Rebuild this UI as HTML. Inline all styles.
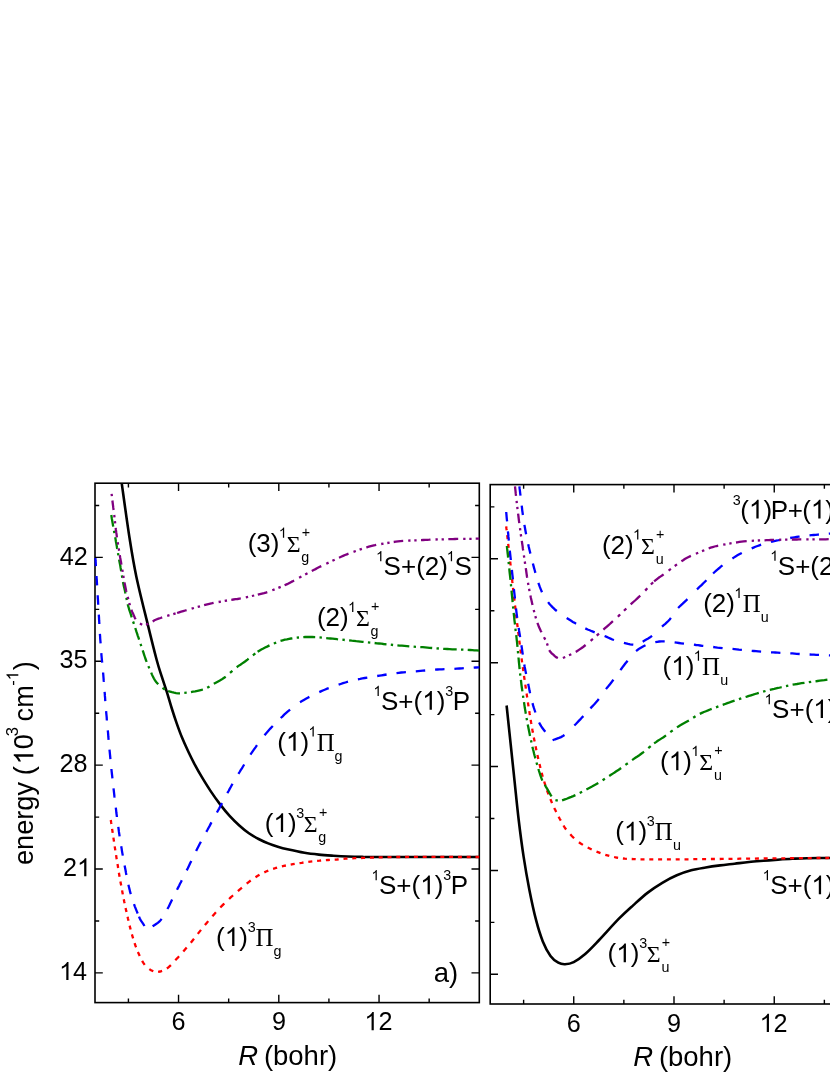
<!DOCTYPE html>
<html><head><meta charset="utf-8"><title>Potential energy curves</title>
<style>html,body{margin:0;padding:0;background:#fff}svg{display:block;will-change:transform}text{font-kerning:none}</style></head>
<body>
<svg width="830" height="1075" viewBox="0 0 830 1075">
<rect width="830" height="1075" fill="#fff"/>
<defs><path id="one" d="M763 0H583V1147Q518 1085 412.5 1023T223 930V1104Q374 1175 487 1276T647 1472H763Z"/><clipPath id="cl"><rect x="94.20" y="483.90" width="385.10" height="518.70"/></clipPath>
<clipPath id="cr"><rect x="489.40" y="485.30" width="390.60" height="518.70"/></clipPath></defs>
<rect x="95.00" y="483.20" width="384.30" height="519.40" fill="none" stroke="#000" stroke-width="1.6"/>
<path d="M128.42 1002.60 v-4.20 M128.42 483.20 v4.20 M178.54 1002.60 v-7.80 M178.54 483.20 v7.80 M228.67 1002.60 v-4.20 M228.67 483.20 v4.20 M278.80 1002.60 v-7.80 M278.80 483.20 v7.80 M328.92 1002.60 v-4.20 M328.92 483.20 v4.20 M379.05 1002.60 v-7.80 M379.05 483.20 v7.80 M429.17 1002.60 v-4.20 M429.17 483.20 v4.20 M95.00 972.92 h7.80 M479.30 972.92 h-7.80 M95.00 920.98 h4.20 M479.30 920.98 h-4.20 M95.00 869.04 h7.80 M479.30 869.04 h-7.80 M95.00 817.10 h4.20 M479.30 817.10 h-4.20 M95.00 765.16 h7.80 M479.30 765.16 h-7.80 M95.00 713.22 h4.20 M479.30 713.22 h-4.20 M95.00 661.28 h7.80 M479.30 661.28 h-7.80 M95.00 609.34 h4.20 M479.30 609.34 h-4.20 M95.00 557.40 h7.80 M479.30 557.40 h-7.80 M95.00 505.46 h4.20 M479.30 505.46 h-4.20" stroke="#000" stroke-width="1.4" fill="none"/>
<rect x="490.20" y="484.60" width="389.80" height="519.40" fill="none" stroke="#000" stroke-width="1.6"/>
<path d="M523.62 1004.00 v-4.20 M523.62 484.60 v4.20 M573.74 1004.00 v-7.80 M573.74 484.60 v7.80 M623.87 1004.00 v-4.20 M623.87 484.60 v4.20 M674.00 1004.00 v-7.80 M674.00 484.60 v7.80 M724.12 1004.00 v-4.20 M724.12 484.60 v4.20 M774.25 1004.00 v-7.80 M774.25 484.60 v7.80 M824.37 1004.00 v-4.20 M824.37 484.60 v4.20 M490.20 974.32 h7.80 M880.00 974.32 h-7.80 M490.20 922.38 h4.20 M880.00 922.38 h-4.20 M490.20 870.44 h7.80 M880.00 870.44 h-7.80 M490.20 818.50 h4.20 M880.00 818.50 h-4.20 M490.20 766.56 h7.80 M880.00 766.56 h-7.80 M490.20 714.62 h4.20 M880.00 714.62 h-4.20 M490.20 662.68 h7.80 M880.00 662.68 h-7.80 M490.20 610.74 h4.20 M880.00 610.74 h-4.20 M490.20 558.80 h7.80 M880.00 558.80 h-7.80 M490.20 506.86 h4.20 M880.00 506.86 h-4.20" stroke="#000" stroke-width="1.4" fill="none"/>
<path d="M121.80 483.90 C123.08 492.88 127.08 522.38 129.50 537.80 C131.92 553.22 133.25 561.93 136.30 576.40 C139.35 590.87 144.40 610.67 147.80 624.60 C151.20 638.53 154.37 651.32 156.70 660.00 C159.03 668.68 160.12 671.40 161.80 676.70 C163.48 682.00 165.13 686.50 166.80 691.80 C168.47 697.10 170.13 703.20 171.80 708.50 C173.47 713.80 175.13 718.85 176.80 723.60 C178.47 728.35 179.85 732.27 181.80 737.00 C183.75 741.73 186.27 747.27 188.50 752.00 C190.73 756.73 192.97 761.20 195.20 765.40 C197.43 769.60 199.38 773.00 201.90 777.20 C204.42 781.40 207.20 785.98 210.30 790.60 C213.40 795.22 217.28 800.68 220.50 804.90 C223.72 809.12 226.47 812.47 229.60 815.90 C232.73 819.33 236.08 822.60 239.30 825.50 C242.52 828.40 245.68 831.05 248.90 833.30 C252.12 835.55 255.38 837.32 258.60 839.00 C261.82 840.68 265.00 842.12 268.20 843.40 C271.40 844.68 274.58 845.72 277.80 846.70 C281.02 847.68 283.05 848.28 287.50 849.30 C291.95 850.32 299.27 851.92 304.50 852.80 C309.73 853.68 314.08 854.12 318.90 854.60 C323.72 855.08 328.58 855.38 333.40 855.70 C338.22 856.02 342.98 856.30 347.80 856.50 C352.62 856.70 357.48 856.82 362.30 856.90 C367.12 856.98 357.12 856.98 376.70 857.00 C396.28 857.02 462.62 857.00 479.80 857.00" fill="none" stroke="#000" stroke-width="2.6" clip-path="url(#cl)"/>
<path d="M110.8 820.0L111.1 822.2L111.4 824.0M112.1 828.8L112.5 831.5L112.7 832.8M113.4 837.6L113.7 839.7L114.0 841.6M114.7 846.4L115.1 848.9L115.3 850.4M116.1 855.2L116.4 857.3L116.7 859.2M117.5 864.0L117.9 866.2L118.1 868.0M118.9 872.8L119.3 875.2L119.6 876.8M120.4 881.6L120.8 883.6L121.2 885.6M122.1 890.4L122.5 892.8L122.8 894.4M123.8 899.2L124.2 901.4L124.6 903.2M125.6 908.0L126.1 910.4L126.5 912.0M127.6 916.8L128.0 918.8L128.5 920.8M129.6 925.6L130.2 927.9L130.6 929.6M131.9 934.4L132.5 936.4L133.1 938.4M134.6 943.2L135.4 945.5L136.1 947.2M137.9 952.0L138.8 953.9L139.7 956.0M142.1 960.8L143.2 962.7L144.7 964.8M149.3 969.1L151.1 970.3L153.3 971.3M158.1 971.8L160.2 971.5L162.1 970.9M166.9 968.5L168.7 967.2L170.9 965.1M175.3 960.3L176.7 958.8L178.2 957.2L179.0 956.3M183.3 951.5L184.8 949.7L186.7 947.5M190.8 942.7L192.4 940.7L194.0 938.7M197.8 933.9L199.4 931.9L201.0 929.9M204.9 925.1L206.5 923.2L208.2 921.1M212.4 916.3L213.8 914.7L215.9 912.3M220.3 907.5L221.9 905.9L223.4 904.4L224.3 903.5M229.1 899.0L230.7 897.4L232.3 896.0L233.1 895.3M237.9 891.1L239.6 889.6L241.1 888.3L241.9 887.6M246.7 883.6L248.3 882.3L250.7 880.5M255.5 877.2L257.4 876.0L259.5 874.8M264.3 872.4L266.1 871.5L268.3 870.6M273.1 868.8L275.2 868.2L277.1 867.6M281.9 866.4L283.9 865.9L285.9 865.5M290.7 864.6L292.9 864.2L294.7 863.9M299.5 863.1L301.7 862.8L303.5 862.5M308.3 861.9L310.3 861.6L312.3 861.4M317.1 860.9L319.5 860.7L321.1 860.5M325.9 860.2L328.2 860.0L329.9 859.9M334.7 859.6L336.9 859.5L338.7 859.3M343.5 858.9L345.7 858.7L347.5 858.6M352.3 858.3L354.9 858.2L356.3 858.2M361.1 858.0L363.3 857.9L365.1 857.8M369.9 857.7L372.0 857.6L373.9 857.5M378.7 857.4L380.9 857.3L382.7 857.3M387.5 857.2L389.8 857.1L391.5 857.1M396.3 857.0L398.5 857.0L400.3 857.0M405.1 857.0L409.1 856.9M413.9 856.9L417.9 856.9M422.7 856.9L426.7 856.9M431.5 856.9L435.5 856.9M440.3 856.9L442.7 856.9L444.3 856.9M449.1 856.9L451.9 856.9L453.1 856.9M457.9 857.0L460.6 857.0L461.9 857.0M466.7 857.0L470.7 857.0M475.5 857.0L477.6 857.0L479.5 857.0" fill="none" stroke="#ff0000" stroke-width="2.3" clip-path="url(#cl)"/>
<path d="M95.4 558.0L95.5 560.2L95.7 562.2L95.8 564.5L95.9 566.1M96.5 576.0L96.6 578.1L96.8 580.2L96.9 582.4L97.1 585.4M97.7 595.3L97.8 597.9L98.0 600.2L98.1 602.5L98.2 604.7M98.8 614.6L99.0 617.6L99.1 620.2L99.3 622.8L99.3 624.0M99.9 633.9L100.1 636.4L100.2 638.6L100.4 640.8L100.6 643.3M101.3 653.2L101.5 655.7L101.7 657.9L101.9 660.0L102.2 662.6M103.1 672.5L103.3 675.0L103.5 677.7L103.7 680.4L103.9 681.9M104.6 691.8L104.8 693.9L104.9 695.9L105.1 698.0L105.2 700.0L105.3 701.2M106.1 711.1L106.3 713.3L106.5 715.3L106.7 717.4L106.8 719.5L106.9 720.5M107.8 730.4L108.0 732.4L108.2 734.6L108.3 736.7L108.6 739.8M109.5 749.7L109.8 752.7L110.0 754.7L110.2 756.7L110.4 759.1M111.4 769.0L111.7 771.8L112.0 774.5L112.3 777.2L112.4 778.4M113.5 788.3L113.8 790.7L114.1 793.4L114.4 796.2L114.6 797.7M115.8 807.6L116.1 810.2L116.4 813.0L116.8 815.8L116.9 817.0M118.3 826.9L118.6 829.2L118.9 831.7L119.3 834.1L119.6 836.3M121.2 846.2L121.6 848.4L121.9 850.6L122.3 852.9L122.8 855.6M124.6 865.5L125.1 867.9L125.6 870.5L126.0 873.0L126.4 874.9M128.4 884.8L129.0 887.3L129.6 889.6L130.1 891.9L130.8 894.2M134.0 904.1L134.9 906.6L135.8 908.9L136.7 911.1L137.7 913.5M139.0 916.6L139.8 918.5L140.8 920.4L142.0 922.1L143.2 923.8L144.5 926.0M152.6 926.3L154.3 925.2L156.1 924.0L157.8 922.9L159.5 921.5L160.9 919.9L161.6 918.9M167.4 909.0L168.4 907.2L169.3 905.4L170.2 903.5L171.2 901.5L172.1 899.6M177.0 889.7L178.1 887.6L179.1 885.7L180.0 883.8L181.0 882.0L181.8 880.3M186.7 870.4L187.8 868.3L188.9 866.0L190.0 863.6L191.3 861.0M196.1 851.1L197.1 849.0L198.3 846.7L199.4 844.5L200.9 841.7M206.3 831.8L207.5 829.8L208.6 827.7L209.8 825.6L210.9 823.4L211.5 822.4M216.9 812.5L217.9 810.7L219.1 808.6L220.2 806.5L221.4 804.4L222.1 803.1M227.3 793.2L228.6 791.0L229.7 788.9L230.9 786.8L232.5 783.8M238.4 773.9L239.6 772.0L240.7 770.1L241.9 768.3L243.0 766.5L244.2 764.5M250.4 754.6L251.6 752.9L253.0 750.9L254.2 749.2L255.5 747.4L257.0 745.2M264.5 735.3L265.8 733.7L267.3 732.0L268.8 730.3L270.3 728.6L271.8 727.0L272.8 725.9M280.7 718.0L282.6 716.3L284.2 714.7L285.9 713.2L287.6 711.7L290.1 709.6M300.0 702.2L302.0 701.0L303.9 699.9L305.9 698.8L307.8 697.7L309.4 696.9M319.3 692.1L321.4 691.1L323.4 690.3L325.3 689.5L327.2 688.7L328.7 688.2M338.6 684.7L340.7 684.0L343.0 683.2L345.4 682.5L348.0 681.7M357.9 679.3L360.1 678.9L362.4 678.4L364.8 678.0L367.3 677.6M377.2 676.0L379.6 675.6L381.7 675.3L383.7 675.0L386.6 674.5M396.5 673.1L398.8 672.8L401.2 672.5L403.6 672.3L405.9 672.1M415.8 671.3L418.1 671.1L420.5 670.9L422.9 670.7L425.2 670.5M435.1 669.7L437.4 669.5L439.7 669.4L442.0 669.3L444.5 669.2M454.4 668.8L456.8 668.6L459.3 668.5L462.0 668.4L463.8 668.2M473.7 667.7L475.9 667.5L478.3 667.4L479.8 667.3" fill="none" stroke="#0000ff" stroke-width="2.3" clip-path="url(#cl)"/>
<path d="M111.3 515.0L111.6 517.0L111.9 519.0L112.3 521.2L112.7 523.5L113.2 526.6M114.0 530.8L114.4 533.1M115.2 537.3L115.6 539.4L115.9 541.5L116.3 543.6L116.7 545.7L117.0 547.7L117.3 548.9M118.0 553.1L118.4 555.4M119.1 559.6L119.5 561.7L119.9 563.8L120.3 565.8L120.6 567.9L121.0 570.0L121.2 571.2M121.9 575.4L122.3 577.7M123.0 581.9L123.4 583.9L123.8 586.0L124.3 588.1L124.8 590.1L125.2 592.2L125.5 593.5M126.4 597.7L126.8 600.0M127.7 604.2L128.1 605.7M128.1 605.7L128.7 607.8L129.3 609.8L129.9 611.7L130.6 613.7L131.2 615.7L131.7 617.3M133.1 621.5L133.9 623.8M135.3 628.0L135.9 630.0L136.5 631.9L137.2 633.8L137.8 635.8L138.5 637.7L139.1 639.6M140.5 643.8L141.3 646.1M142.7 650.3L143.3 652.2L144.0 654.4L144.7 656.5L145.4 658.5L146.1 660.5L146.7 661.9M148.4 666.1L149.3 668.4M151.2 672.6L152.0 674.6L152.9 676.6L153.9 678.5L155.0 680.4L156.2 682.0L158.2 684.2M162.5 687.9L164.9 689.6M168.1 691.0L170.0 691.6L172.0 692.2L174.1 692.7L176.1 693.1L178.2 693.4L180.0 693.4M184.3 692.9L186.7 692.7M191.0 692.1L193.0 691.7L195.2 691.3L197.5 690.8L199.7 690.3L201.7 689.8L202.9 689.5M207.2 687.7L209.5 686.4M213.8 683.8L215.8 682.7L217.6 681.7L219.5 680.7L221.5 679.6L223.4 678.3L225.7 676.7M230.0 672.9L232.4 670.8M236.7 667.2L238.5 665.9L240.4 664.7L242.3 663.4L244.0 662.2L245.7 661.0L247.5 659.6L248.6 658.7M252.9 655.3L255.3 653.4M257.6 651.8L259.3 650.7L261.3 649.5L263.3 648.5L265.1 647.5L267.1 646.6L269.5 645.4M273.8 643.5L276.2 642.6M280.5 640.9L282.6 640.3L284.8 639.7L286.9 639.3L289.1 638.8L291.1 638.5L292.4 638.3M296.7 637.7L299.0 637.5M303.3 637.1L305.4 637.0L307.7 636.9L309.9 637.0L312.2 637.0L315.2 637.1M319.5 637.4L321.9 637.6M326.2 638.1L328.3 638.3L330.4 638.5L332.6 638.7L334.8 638.9L337.1 639.2L338.1 639.3M342.4 639.7L344.8 640.0M349.1 640.4L351.7 640.7M351.7 640.7L353.9 640.9L356.2 641.2L358.2 641.4L360.3 641.6L362.5 641.8L363.6 641.9M367.9 642.4L370.3 642.6M374.6 643.0L376.9 643.3L379.1 643.5L381.3 643.7L383.5 644.0L386.5 644.3M390.8 644.7L393.1 645.0M397.4 645.4L399.6 645.6L402.0 645.7L404.4 645.9L406.9 646.1L409.3 646.3M413.6 646.6L416.0 646.8M420.3 647.1L422.8 647.2L425.1 647.4L427.4 647.6L429.6 647.8L432.2 648.0M436.5 648.3L438.9 648.5M443.2 648.8L444.8 648.9M444.8 648.9L447.2 649.0L449.6 649.1L452.2 649.3L454.7 649.4L456.7 649.4M461.0 649.6L463.4 649.7M467.7 649.9L470.0 650.0L472.3 650.1L474.4 650.3L476.5 650.4L479.6 650.7" fill="none" stroke="#008000" stroke-width="2.3" clip-path="url(#cl)"/>
<path d="M111.6 493.9L111.9 496.1M112.4 500.5L112.7 503.0L113.0 505.4L113.3 507.9L113.6 510.0M114.2 515.0L114.5 517.3M114.9 521.1L115.2 523.4M115.7 527.8L115.9 529.9L116.2 532.2L116.6 534.6L116.9 537.3M117.7 542.3L118.1 544.6M118.7 548.4L119.1 550.7M119.8 555.1L120.2 557.7L120.6 559.9L121.0 562.0L121.4 564.6M122.3 569.6L122.7 571.9M123.3 575.7L123.7 578.0M124.5 582.4L124.9 584.6L125.3 586.5L125.7 588.5L126.1 590.5L126.5 591.9M127.7 596.9L128.3 599.2M129.3 603.0L129.9 605.3M131.3 609.7L132.1 611.7L133.0 613.6L133.9 615.6L134.7 617.5L135.6 619.2M139.9 623.5L142.2 624.7M146.0 624.7L148.3 623.7M152.7 621.4L154.5 620.3L156.3 619.5L158.5 618.6L160.6 618.0L162.2 617.4M167.2 615.9L169.5 615.2M173.3 614.1L175.6 613.4M177.1 613.0L179.1 612.3L181.2 611.7L183.2 611.1L185.3 610.5L186.6 610.1M191.6 608.7L193.9 608.0M197.7 606.9L200.0 606.3M204.1 605.2L206.2 604.6L208.3 604.1L210.3 603.6L212.3 603.2L213.6 602.9M218.6 602.0L220.9 601.6M224.7 600.9L227.0 600.5M231.3 599.8L233.4 599.5L235.5 599.2L237.5 599.0L239.6 598.6L240.8 598.4M245.8 597.3L248.1 596.8M251.9 596.0L254.2 595.5M257.8 594.7L259.9 594.2L262.0 593.7L264.0 593.2L266.0 592.6L267.3 592.2M272.3 590.3L274.6 589.4M278.4 587.9L280.7 586.9M284.6 585.3L286.6 584.4L288.5 583.5L290.4 582.4L292.4 581.4L294.1 580.5M299.1 577.8L301.4 576.6M305.2 574.5L307.5 573.3M311.8 571.0L313.6 570.0L315.5 569.1L317.4 568.1L319.3 567.1L321.3 566.1M326.3 563.7L328.6 562.6M332.4 560.8L334.7 559.7M339.0 557.7L341.1 556.8L343.1 555.9L345.0 555.0L346.9 554.3L348.5 553.7M353.5 551.8L355.8 551.0M359.6 549.7L361.9 548.9M366.3 547.4L366.7 547.3M366.7 547.3L368.8 546.7L370.8 546.1L372.8 545.6L374.9 545.2L376.2 544.9M381.2 544.0L383.5 543.6M387.3 543.0L389.6 542.6M393.7 542.0L395.8 541.7L398.0 541.4L400.3 541.1L403.2 540.9M408.2 540.6L410.5 540.5M414.3 540.3L416.6 540.3M421.0 540.1L423.1 540.0L425.3 539.9L427.4 539.8L429.4 539.7L430.5 539.6M435.5 539.5L437.8 539.4M441.6 539.4L443.9 539.3M448.3 539.2L448.7 539.2M448.7 539.2L450.8 539.1L452.9 539.1L455.0 539.0L457.1 538.9L458.2 538.9M463.2 538.8L465.5 538.8M469.3 538.8L471.6 538.8M475.7 538.7L478.1 538.7L479.8 538.7" fill="none" stroke="#800080" stroke-width="2.3" clip-path="url(#cl)"/>
<path d="M506.60 705.50 C507.82 717.07 511.88 755.82 513.90 774.90 C515.92 793.98 517.08 806.38 518.70 820.00 C520.32 833.62 521.83 845.03 523.60 856.60 C525.37 868.17 527.22 878.80 529.30 889.40 C531.38 900.00 533.85 911.53 536.10 920.20 C538.35 928.87 540.40 935.45 542.80 941.40 C545.20 947.35 547.92 952.35 550.50 955.90 C553.08 959.45 555.88 961.32 558.30 962.70 C560.72 964.08 562.43 964.30 565.00 964.20 C567.57 964.10 570.33 963.80 573.70 962.10 C577.07 960.40 581.03 957.60 585.20 954.00 C589.37 950.40 593.08 946.38 598.70 940.50 C604.32 934.62 613.12 924.60 618.90 918.70 C624.68 912.80 628.58 909.45 633.40 905.10 C638.22 900.75 642.98 896.32 647.80 892.60 C652.62 888.88 657.47 885.68 662.30 882.80 C667.13 879.92 671.98 877.38 676.80 875.30 C681.62 873.22 686.38 871.60 691.20 870.30 C696.02 869.00 700.88 868.32 705.70 867.50 C710.52 866.68 715.28 866.03 720.10 865.40 C724.92 864.77 729.78 864.27 734.60 863.70 C739.42 863.13 744.18 862.48 749.00 862.00 C753.82 861.52 758.67 861.18 763.50 860.80 C768.33 860.42 773.18 860.03 778.00 859.70 C782.82 859.37 787.58 859.05 792.40 858.80 C797.22 858.55 799.80 858.35 806.90 858.20 C814.00 858.05 830.32 857.95 835.00 857.90" fill="none" stroke="#000" stroke-width="2.6" clip-path="url(#cr)"/>
<path d="M506.2 526.3L506.4 528.4L506.7 530.3M507.2 535.1L507.5 537.7L507.6 539.1M508.2 543.9L508.5 546.5L508.6 547.9M509.2 552.7L509.5 555.5L509.6 556.7M510.2 561.5L510.4 563.6L510.6 565.5M511.1 570.3L511.4 572.9L511.5 574.3M512.1 579.1L512.3 581.4L512.5 583.1M513.0 587.9L513.3 590.2L513.5 591.9M514.0 596.7L514.3 599.5L514.5 600.7M515.0 605.5L515.3 607.5L515.5 609.5M516.1 614.3L516.4 616.8L516.5 618.3M517.1 623.1L517.5 626.0L517.6 627.1M518.2 631.9L518.5 634.1L518.7 635.9M519.3 640.7L519.7 643.6L519.8 644.7M520.4 649.5L520.7 651.8L521.0 653.5M521.6 658.3L521.9 660.8L522.1 662.3M522.8 667.1L523.2 670.0L523.4 671.1M524.0 675.9L524.4 678.5L524.6 679.9M525.3 684.7L525.7 687.4L525.9 688.7M526.6 693.5L527.0 696.2L527.2 697.5M527.9 702.3L528.3 704.9L528.5 706.3M529.3 711.1L529.7 713.9L529.9 715.1M530.7 719.9L531.1 722.4L531.4 723.9M532.2 728.7L532.6 731.3L532.9 732.7M533.8 737.5L534.3 740.0L534.6 741.5M535.6 746.3L536.1 749.1L536.4 750.3M537.4 755.1L538.0 757.6L538.3 759.1M539.5 763.9L540.0 766.0L540.4 767.9M541.7 772.7L542.2 774.7L542.7 776.7M544.2 781.5L544.9 783.8L545.4 785.5M547.0 790.3L547.8 792.5L548.5 794.3M550.4 799.1L551.3 801.3L552.0 803.1M554.2 807.9L555.3 810.1L556.2 811.9M558.6 816.7L559.7 818.8L560.8 820.7M563.5 825.5L564.6 827.4L566.1 829.5M570.3 834.3L571.8 836.0L573.3 837.5L574.1 838.3M578.9 842.2L580.7 843.5L582.9 844.9M587.7 847.5L589.7 848.5L591.7 849.5M596.5 851.6L598.6 852.4L600.5 853.1M605.3 854.8L607.4 855.4L609.3 855.9M614.1 857.0L616.4 857.5L618.1 857.8M622.9 858.5L624.9 858.7L626.9 858.8M631.7 859.0L633.9 859.1L635.7 859.2M640.5 859.3L642.5 859.3L644.5 859.3M649.3 859.4L651.3 859.4L653.3 859.4M658.1 859.4L660.5 859.4L662.1 859.4M666.9 859.4L669.7 859.4L670.9 859.4M675.7 859.4L678.6 859.3L679.7 859.3M684.5 859.3L687.3 859.3L688.5 859.3M693.3 859.2L695.5 859.2L697.3 859.2M702.1 859.1L704.4 859.1L706.1 859.1M710.9 859.0L714.9 859.0M719.7 859.0L721.9 858.9L723.7 858.9M728.5 858.9L732.5 858.8M737.3 858.8L739.9 858.7L741.3 858.7M746.1 858.7L748.3 858.6L750.1 858.6M754.9 858.6L758.9 858.5M763.7 858.5L767.7 858.4M772.5 858.4L775.0 858.4L776.5 858.3M781.3 858.3L784.0 858.3L785.3 858.3M790.1 858.2L794.1 858.2M798.9 858.2L801.0 858.1L802.9 858.1M807.7 858.1L810.1 858.1L811.7 858.1M816.5 858.0L818.7 858.0L820.5 858.0M825.3 858.0L827.5 858.0L829.3 857.9M834.1 857.9L835.0 857.9" fill="none" stroke="#ff0000" stroke-width="2.3" clip-path="url(#cr)"/>
<path d="M506.2 512.0L506.4 514.2L506.6 516.7L506.8 518.9L507.1 521.4M507.9 531.3L508.2 533.6L508.4 536.4L508.7 539.2L508.8 540.7M509.8 550.6L510.1 553.4L510.4 556.1L510.7 558.9L510.8 560.0M511.9 569.9L512.1 572.0L512.4 574.8L512.7 577.5L512.9 579.3M513.9 589.2L514.2 591.8L514.5 594.4L514.8 597.1L514.9 598.6M516.0 608.5L516.3 610.8L516.6 613.3L516.9 615.7L517.2 617.9M518.7 627.8L519.0 630.2L519.4 632.6L519.8 634.8L520.1 637.2M521.4 645.2L521.8 647.6L522.1 649.8L522.4 651.8L522.8 654.6M524.3 664.5L524.6 666.5L525.1 669.0L525.6 671.4L526.1 673.9M528.2 683.8L528.6 685.9L529.1 688.3L529.5 690.6L530.1 693.2M532.5 703.1L533.1 705.4L533.7 707.4L534.4 709.5L535.4 712.5M539.1 722.4L540.1 724.4L541.3 726.4L542.4 728.1L543.7 729.7L545.3 731.8M552.6 740.3L555.1 739.3M555.1 739.3L557.0 738.6L559.0 737.9L561.0 737.1L562.9 736.0L564.5 735.0M574.3 725.5L575.9 724.0L577.3 722.5L578.8 720.9L580.3 719.4L581.7 717.8L583.4 716.1M590.4 708.4L591.8 706.9L593.4 705.2L594.8 703.7L596.3 702.0L597.6 700.5L598.8 699.0M606.0 689.1L607.3 687.4L608.7 685.8L610.0 684.2L611.3 682.6L612.6 680.8L613.5 679.7M620.4 670.1L621.6 668.5L622.9 666.7L624.2 665.0L625.5 663.3L626.8 661.7L627.6 660.7M636.1 651.1L637.8 649.7L639.6 648.4L641.3 647.4L643.0 646.4L645.5 645.2M655.3 642.2L657.3 641.8L659.3 641.5L661.5 641.3L663.7 641.3L664.7 641.3M674.6 642.4L676.7 642.7L678.9 643.0L681.1 643.3L684.0 643.7M693.9 644.7L696.1 645.0L698.1 645.2L700.1 645.5L702.3 645.8L703.3 645.9M713.2 647.0L715.4 647.3L717.5 647.6L719.7 647.8L722.6 648.2M732.5 648.9L734.6 649.1L736.7 649.3L738.9 649.6L741.9 649.9M751.7 650.8L753.9 651.0L756.0 651.2L758.2 651.4L761.1 651.6M771.0 652.3L773.2 652.4L775.3 652.5L777.5 652.6L780.4 652.8M790.3 653.3L792.4 653.4L794.6 653.6L796.8 653.8L799.7 654.0M809.6 654.5L811.8 654.6L814.0 654.7L816.1 654.8L819.0 654.9M828.9 655.4L831.2 655.5L833.4 655.6L835.0 655.7" fill="none" stroke="#0000ff" stroke-width="2.3" clip-path="url(#cr)"/>
<path d="M519.4 486.3L519.6 488.4L519.9 490.7L520.2 493.4L520.5 495.7M521.7 505.6L522.0 508.0L522.2 510.1L522.5 512.2L522.9 515.0M524.4 524.9L524.8 527.0L525.2 529.2L525.6 531.5L526.1 534.3M528.2 544.2L528.7 546.6L529.2 548.7L529.7 550.8L530.4 553.6M532.9 563.5L533.5 565.9L534.1 568.1L534.7 570.2L535.4 572.9M538.4 582.8L539.1 585.0L539.9 587.2L540.8 589.4L542.0 592.2M548.1 602.1L549.3 603.7L550.7 605.3L552.2 606.9L553.8 608.4L555.5 610.0L556.8 611.0M566.7 618.0L568.7 619.3L570.8 620.6L572.9 621.9L575.0 623.1L576.1 623.7M585.3 628.4L587.6 629.5L589.7 630.3L591.8 631.2L594.7 632.3M604.6 636.0L606.7 636.9L608.5 637.7L610.5 638.6L612.4 639.5L614.0 640.0M623.9 642.9L625.9 643.4L628.1 643.9L630.1 644.3L632.1 644.6L633.3 644.7M642.7 641.7L644.6 640.6L646.3 639.6L648.2 638.5L650.1 637.3L652.1 635.9M662.0 626.6L663.7 625.1L665.3 623.8L666.8 622.4L668.3 621.0L669.7 619.4L670.9 617.9M678.1 608.0L679.6 606.5L681.1 605.1L682.7 603.7L684.3 602.2L685.9 600.7L687.4 599.1M697.0 589.3L698.5 587.9L700.1 586.3L701.8 584.8L703.3 583.3L704.9 581.7L706.4 580.2M713.1 573.5L714.7 572.0L716.2 570.6L717.7 569.3L719.3 568.0L720.8 566.7L722.5 565.4M732.4 558.5L734.1 557.4L735.9 556.2L737.8 555.1L739.7 554.0L741.8 552.9M751.7 548.4L753.5 547.6L755.4 546.8L757.5 546.0L759.4 545.3L761.1 544.7M771.0 542.0L773.1 541.4L775.2 540.9L777.3 540.5L779.4 540.0L780.4 539.8M790.2 538.0L792.3 537.6L794.4 537.3L796.4 537.0L798.5 536.7L799.6 536.6M809.5 535.4L811.6 535.2L813.7 535.0L815.7 534.8L817.8 534.6L818.9 534.5M828.8 533.7L831.2 533.5L833.4 533.3L835.0 533.2" fill="none" stroke="#0000ff" stroke-width="2.3" clip-path="url(#cr)"/>
<path d="M506.9 546.0L507.1 548.4L507.4 550.9L507.6 553.0L507.9 555.3L508.1 557.6M508.6 561.8L508.8 564.1M509.3 568.3L509.5 571.1L509.8 573.8L510.1 576.4L510.5 579.9M510.9 584.1L511.1 586.4M511.5 590.6L511.7 592.7L511.9 594.7L512.1 596.7L512.3 598.7L512.5 600.7L512.6 602.2M513.0 606.4L513.3 608.7M513.7 612.9L513.9 614.9L514.2 617.4L514.4 619.8L514.7 622.2L515.0 624.5M515.4 628.7L515.7 631.0M516.2 635.2L516.5 637.4L516.7 639.6L517.0 641.9L517.2 644.2L517.5 646.8M517.9 651.0L518.1 653.3M518.5 657.5L518.7 659.6L518.9 662.1L519.2 664.6L519.4 667.2L519.6 669.1M520.1 673.3L520.3 675.6M520.9 679.8L521.2 682.3L521.5 685.1L521.9 688.0L522.4 691.4M523.0 695.6L523.3 697.9M524.0 702.1L524.4 704.8L524.8 707.8L525.3 710.6L525.8 713.7M526.5 717.9L527.0 720.2M527.7 724.4L528.2 726.7L528.7 729.2L529.2 731.7L529.7 734.2L530.0 736.0M531.0 740.2L531.5 742.5M532.4 746.7L533.0 749.2L533.6 751.4L534.1 753.7L534.7 756.0L535.4 758.3M536.5 762.5L537.2 764.8M538.4 769.0L539.0 771.0L539.8 773.4L540.4 775.5L541.2 777.7L542.3 780.6M544.8 784.8L545.8 786.6L546.9 788.4L547.9 790.1L548.9 791.9L549.9 793.7L550.9 795.4L551.6 796.4M555.4 800.1L557.8 800.7M562.1 800.4L563.5 799.9M563.5 799.9L565.5 799.2L567.3 798.5L569.4 797.6L571.3 796.9L573.2 796.1L575.4 795.1M579.7 793.0L582.1 791.8M586.4 789.5L588.3 788.5L590.2 787.5L592.0 786.6L593.8 785.6L595.6 784.6L598.3 783.0M602.6 780.3L604.9 778.8M609.2 776.0L611.0 774.8L612.8 773.6L614.6 772.5L616.3 771.3L618.0 770.2L619.8 769.0L621.1 768.0M625.4 764.9L627.8 763.2M632.1 760.1L633.8 758.9L635.4 757.8L637.4 756.5L639.3 755.2L640.9 754.0L642.6 752.8L644.0 751.7M648.3 748.1L650.7 746.1M654.1 743.4L656.0 742.1L657.8 740.8L659.7 739.6L661.6 738.4L663.5 737.2L666.0 735.4M670.3 732.2L672.7 730.4M677.0 727.4L678.8 726.2L680.7 725.1L682.5 724.0L684.3 723.0L686.1 722.0L688.9 720.4M693.2 717.7L695.5 716.2M699.8 713.9L701.9 712.9L703.9 712.0L706.0 711.2L708.0 710.4L710.1 709.5L711.7 708.9M716.0 707.3L718.4 706.4M722.7 704.8L724.6 704.2L726.7 703.4L728.8 702.7L730.9 701.9L733.0 701.2L734.6 700.7M738.9 699.2L741.3 698.4M745.6 697.0L746.9 696.6M746.9 696.6L749.0 695.9L751.0 695.3L753.1 694.7L755.1 694.0L757.2 693.4L758.8 692.9M763.1 691.7L765.5 691.0M769.8 689.9L771.9 689.4L774.2 688.9L776.1 688.4L778.1 688.0L780.3 687.5L781.7 687.2M786.0 686.2L788.3 685.7M792.6 684.7L794.8 684.3L797.0 684.0L799.2 683.6L801.5 683.2L804.5 682.8M808.8 682.2L811.2 681.8M815.5 681.3L817.6 681.0L819.8 680.7L822.1 680.4L824.4 680.1L827.4 679.6M831.7 679.1L834.1 678.7" fill="none" stroke="#008000" stroke-width="2.3" clip-path="url(#cr)"/>
<path d="M515.0 486.3L515.2 488.3L515.5 490.9L515.7 493.2L516.0 495.8M516.6 500.8L516.8 503.1M517.3 506.9L517.5 509.2M518.1 513.6L518.4 516.0L518.7 518.6L519.0 521.1L519.3 523.1M520.0 528.1L520.3 530.4M520.8 534.2L521.1 536.5M521.8 540.9L522.2 543.6L522.6 546.2L522.9 548.9L523.2 550.4M523.9 555.4L524.2 557.7M524.8 561.5L525.1 563.8M525.8 568.2L526.2 571.0L526.6 573.8L527.0 576.7L527.2 577.7M528.0 582.7L528.4 585.0M529.1 588.8L529.5 591.1M530.4 595.5L530.9 598.0L531.5 600.4L532.0 602.7L532.5 605.0M533.7 610.0L534.3 612.3M535.3 616.1L536.0 618.4M537.4 622.8L538.1 624.7L538.9 626.8L539.8 628.7L540.7 630.7L541.5 632.3M544.0 637.3L545.3 639.6M547.0 643.4L547.7 645.7M549.2 650.1L550.3 651.9L551.7 653.4L553.3 654.7L554.8 656.1L556.5 657.4L557.9 658.0M562.9 658.0L565.2 657.0M569.0 655.2L571.3 654.2M575.7 651.9L576.1 651.7M576.1 651.7L577.9 650.6L579.6 649.4L581.3 648.3L583.1 647.0L585.6 645.0M590.6 640.8L592.9 638.9M596.7 635.6L599.0 633.6M603.4 629.6L605.0 628.2L606.6 626.8L608.3 625.3L609.8 624.0L611.3 622.6L612.9 621.2M617.9 616.7L619.4 615.2L620.2 614.5M624.0 610.8L626.3 608.5M630.7 604.3L632.3 602.9L633.9 601.5L635.6 600.0L637.1 598.6L638.6 597.2L640.2 595.6M645.2 590.6L647.3 588.3M650.9 584.5L652.4 583.0L653.2 582.3M654.1 581.4L655.7 580.1L657.3 578.8L659.0 577.5L660.7 576.4L662.4 575.2L663.6 574.3M668.6 570.6L670.9 568.9M674.7 566.0L677.0 564.4M681.4 561.3L683.1 560.2L684.8 559.0L686.6 558.0L688.6 557.0L690.9 555.9M695.9 553.7L698.2 552.7M702.0 551.1L704.3 550.2M708.7 548.5L710.6 547.7L712.6 547.1L714.6 546.5L716.7 546.0L718.2 545.7M723.2 544.7L725.5 544.3M729.3 543.6L731.6 543.2M736.0 542.5L737.2 542.3M737.2 542.3L739.4 541.9L741.6 541.6L743.6 541.4L746.7 541.1M751.7 540.8L754.0 540.7M757.8 540.5L760.1 540.4M764.5 540.3L766.7 540.2L768.8 540.1L770.9 540.0L772.9 539.9L774.0 539.9M779.0 539.8L781.3 539.7M785.1 539.6L787.4 539.6M791.8 539.5L794.2 539.5L796.8 539.5L798.9 539.4L801.3 539.4M806.3 539.4L808.6 539.4M812.4 539.3L814.7 539.3M819.1 539.3L819.2 539.3M819.2 539.3L821.4 539.3L823.4 539.3L825.7 539.3L828.7 539.2M833.7 539.2L835.0 539.2" fill="none" stroke="#800080" stroke-width="2.3" clip-path="url(#cr)"/>
<use href="#one" transform="matrix(0.01230 0 0 -0.01230 59.11 980.12)"/>
<text x="73.12" y="980.12" font-size="25.2" font-family="Liberation Sans, sans-serif">4</text>
<text x="63.00" y="876.24" font-size="25.2" font-family="Liberation Sans, sans-serif">2</text>
<use href="#one" transform="matrix(0.01230 0 0 -0.01230 77.01 876.24)"/>
<text x="59.47" y="772.36" font-size="25.2" font-family="Liberation Sans, sans-serif">28</text>
<text x="59.43" y="668.48" font-size="25.2" font-family="Liberation Sans, sans-serif">35</text>
<text x="59.64" y="564.60" font-size="25.2" font-family="Liberation Sans, sans-serif">42</text>
<text x="171.55" y="1030.20" font-size="25.2" font-family="Liberation Sans, sans-serif">6</text>
<text x="271.89" y="1030.20" font-size="25.2" font-family="Liberation Sans, sans-serif">9</text>
<use href="#one" transform="matrix(0.01230 0 0 -0.01230 364.39 1030.20)"/>
<text x="378.41" y="1030.20" font-size="25.2" font-family="Liberation Sans, sans-serif">2</text>
<text x="566.75" y="1031.90" font-size="25.2" font-family="Liberation Sans, sans-serif">6</text>
<text x="667.09" y="1031.90" font-size="25.2" font-family="Liberation Sans, sans-serif">9</text>
<use href="#one" transform="matrix(0.01230 0 0 -0.01230 759.59 1031.90)"/>
<text x="773.61" y="1031.90" font-size="25.2" font-family="Liberation Sans, sans-serif">2</text>
<text x="238.15" y="1064.60" font-size="27.5" font-family="Liberation Sans, sans-serif" font-style="italic">R</text>
<text x="263.89" y="1064.60" font-size="27.5" font-family="Liberation Sans, sans-serif">(bohr)</text>
<text x="633.15" y="1066.30" font-size="27.5" font-family="Liberation Sans, sans-serif" font-style="italic">R</text>
<text x="658.89" y="1066.30" font-size="27.5" font-family="Liberation Sans, sans-serif">(bohr)</text>
<g transform="translate(33.3 863.9) rotate(-90)"><text x="-1.16" y="0.00" font-size="27.2" font-family="Liberation Sans, sans-serif">energy</text>
<text x="88.61" y="0.00" font-size="27.2" font-family="Liberation Sans, sans-serif">(</text>
<use href="#one" transform="matrix(0.01328 0 0 -0.01328 99.44 0.00)"/>
<text x="114.57" y="0.00" font-size="27.2" font-family="Liberation Sans, sans-serif">0</text>
<text x="127.57" y="-15.00" font-size="16.5" font-family="Liberation Sans, sans-serif">3</text>
<text x="142.44" y="0.00" font-size="27.2" font-family="Liberation Sans, sans-serif">cm</text>
<text x="178.07" y="-15.00" font-size="16.5" font-family="Liberation Sans, sans-serif">-</text>
<use href="#one" transform="matrix(0.00806 0 0 -0.00806 183.56 -15.00)"/>
<text x="193.74" y="0.00" font-size="27.2" font-family="Liberation Sans, sans-serif">)</text></g>
<text x="247.69" y="552.00" font-size="26.0" font-family="Liberation Sans, sans-serif">(3)</text>
<use href="#one" transform="matrix(0.00698 0 0 -0.00698 278.84 537.80)"/>
<text x="286.77" y="552.00" font-size="23.8" font-family="Liberation Serif, serif">Σ</text>
<text x="301.20" y="561.90" font-size="14.3" font-family="Liberation Sans, sans-serif">g</text>
<text x="301.80" y="536.80" font-size="14.3" font-family="Liberation Sans, sans-serif">+</text>
<text x="316.89" y="626.30" font-size="26.0" font-family="Liberation Sans, sans-serif">(2)</text>
<use href="#one" transform="matrix(0.00698 0 0 -0.00698 348.04 612.10)"/>
<text x="355.97" y="626.30" font-size="23.8" font-family="Liberation Serif, serif">Σ</text>
<text x="370.40" y="636.20" font-size="14.3" font-family="Liberation Sans, sans-serif">g</text>
<text x="371.00" y="611.10" font-size="14.3" font-family="Liberation Sans, sans-serif">+</text>
<text x="277.29" y="750.80" font-size="26.0" font-family="Liberation Sans, sans-serif">(</text>
<use href="#one" transform="matrix(0.01270 0 0 -0.01270 285.95 750.80)"/>
<text x="300.41" y="750.80" font-size="26.0" font-family="Liberation Sans, sans-serif">)</text>
<use href="#one" transform="matrix(0.00698 0 0 -0.00698 308.44 736.60)"/>
<text x="316.79" y="750.80" font-size="24.8" font-family="Liberation Serif, serif">Π</text>
<text x="334.60" y="760.70" font-size="14.3" font-family="Liberation Sans, sans-serif">g</text>
<text x="264.79" y="832.00" font-size="26.0" font-family="Liberation Sans, sans-serif">(</text>
<use href="#one" transform="matrix(0.01270 0 0 -0.01270 273.45 832.00)"/>
<text x="287.91" y="832.00" font-size="26.0" font-family="Liberation Sans, sans-serif">)</text>
<text x="296.36" y="817.80" font-size="14.3" font-family="Liberation Sans, sans-serif">3</text>
<text x="303.87" y="832.00" font-size="23.8" font-family="Liberation Serif, serif">Σ</text>
<text x="318.30" y="841.90" font-size="14.3" font-family="Liberation Sans, sans-serif">g</text>
<text x="318.90" y="816.80" font-size="14.3" font-family="Liberation Sans, sans-serif">+</text>
<text x="216.09" y="945.90" font-size="26.0" font-family="Liberation Sans, sans-serif">(</text>
<use href="#one" transform="matrix(0.01270 0 0 -0.01270 224.75 945.90)"/>
<text x="239.21" y="945.90" font-size="26.0" font-family="Liberation Sans, sans-serif">)</text>
<text x="247.66" y="931.70" font-size="14.3" font-family="Liberation Sans, sans-serif">3</text>
<text x="255.59" y="945.90" font-size="24.8" font-family="Liberation Serif, serif">Π</text>
<text x="273.40" y="955.80" font-size="14.3" font-family="Liberation Sans, sans-serif">g</text>
<text x="601.89" y="553.70" font-size="26.0" font-family="Liberation Sans, sans-serif">(2)</text>
<use href="#one" transform="matrix(0.00698 0 0 -0.00698 633.04 539.50)"/>
<text x="640.97" y="553.70" font-size="23.8" font-family="Liberation Serif, serif">Σ</text>
<text x="655.77" y="563.60" font-size="14.3" font-family="Liberation Sans, sans-serif">u</text>
<text x="656.00" y="538.50" font-size="14.3" font-family="Liberation Sans, sans-serif">+</text>
<text x="703.19" y="612.20" font-size="26.0" font-family="Liberation Sans, sans-serif">(2)</text>
<use href="#one" transform="matrix(0.00698 0 0 -0.00698 734.34 598.00)"/>
<text x="742.69" y="612.20" font-size="24.8" font-family="Liberation Serif, serif">Π</text>
<text x="760.87" y="622.10" font-size="14.3" font-family="Liberation Sans, sans-serif">u</text>
<text x="662.59" y="674.90" font-size="26.0" font-family="Liberation Sans, sans-serif">(</text>
<use href="#one" transform="matrix(0.01270 0 0 -0.01270 671.25 674.90)"/>
<text x="685.71" y="674.90" font-size="26.0" font-family="Liberation Sans, sans-serif">)</text>
<use href="#one" transform="matrix(0.00698 0 0 -0.00698 693.74 660.70)"/>
<text x="702.09" y="674.90" font-size="24.8" font-family="Liberation Serif, serif">Π</text>
<text x="720.27" y="684.80" font-size="14.3" font-family="Liberation Sans, sans-serif">u</text>
<text x="660.09" y="770.20" font-size="26.0" font-family="Liberation Sans, sans-serif">(</text>
<use href="#one" transform="matrix(0.01270 0 0 -0.01270 668.75 770.20)"/>
<text x="683.21" y="770.20" font-size="26.0" font-family="Liberation Sans, sans-serif">)</text>
<use href="#one" transform="matrix(0.00698 0 0 -0.00698 691.24 756.00)"/>
<text x="699.17" y="770.20" font-size="23.8" font-family="Liberation Serif, serif">Σ</text>
<text x="713.97" y="780.10" font-size="14.3" font-family="Liberation Sans, sans-serif">u</text>
<text x="714.20" y="755.00" font-size="14.3" font-family="Liberation Sans, sans-serif">+</text>
<text x="615.29" y="840.40" font-size="26.0" font-family="Liberation Sans, sans-serif">(</text>
<use href="#one" transform="matrix(0.01270 0 0 -0.01270 623.95 840.40)"/>
<text x="638.41" y="840.40" font-size="26.0" font-family="Liberation Sans, sans-serif">)</text>
<text x="646.86" y="826.20" font-size="14.3" font-family="Liberation Sans, sans-serif">3</text>
<text x="654.79" y="840.40" font-size="24.8" font-family="Liberation Serif, serif">Π</text>
<text x="672.97" y="850.30" font-size="14.3" font-family="Liberation Sans, sans-serif">u</text>
<text x="607.59" y="962.30" font-size="26.0" font-family="Liberation Sans, sans-serif">(</text>
<use href="#one" transform="matrix(0.01270 0 0 -0.01270 616.25 962.30)"/>
<text x="630.71" y="962.30" font-size="26.0" font-family="Liberation Sans, sans-serif">)</text>
<text x="639.16" y="948.10" font-size="14.3" font-family="Liberation Sans, sans-serif">3</text>
<text x="646.67" y="962.30" font-size="23.8" font-family="Liberation Serif, serif">Σ</text>
<text x="661.47" y="972.20" font-size="14.3" font-family="Liberation Sans, sans-serif">u</text>
<text x="661.70" y="947.10" font-size="14.3" font-family="Liberation Sans, sans-serif">+</text>
<use href="#one" transform="matrix(0.00698 0 0 -0.00698 376.07 561.20)"/>
<text x="383.62" y="575.10" font-size="26.0" font-family="Liberation Sans, sans-serif">S+(2)</text>
<use href="#one" transform="matrix(0.00698 0 0 -0.00698 446.75 561.20)"/>
<text x="454.50" y="575.10" font-size="26.0" font-family="Liberation Sans, sans-serif">S</text>
<use href="#one" transform="matrix(0.00698 0 0 -0.00698 373.47 695.90)"/>
<text x="381.02" y="709.80" font-size="26.0" font-family="Liberation Sans, sans-serif">S+(</text>
<use href="#one" transform="matrix(0.01270 0 0 -0.01270 422.20 709.80)"/>
<text x="436.66" y="709.80" font-size="26.0" font-family="Liberation Sans, sans-serif">)</text>
<text x="445.16" y="695.90" font-size="14.3" font-family="Liberation Sans, sans-serif">3</text>
<text x="452.76" y="709.80" font-size="26.0" font-family="Liberation Sans, sans-serif">P</text>
<use href="#one" transform="matrix(0.00698 0 0 -0.00698 371.47 880.30)"/>
<text x="379.02" y="894.20" font-size="26.0" font-family="Liberation Sans, sans-serif">S+(</text>
<use href="#one" transform="matrix(0.01270 0 0 -0.01270 420.20 894.20)"/>
<text x="434.66" y="894.20" font-size="26.0" font-family="Liberation Sans, sans-serif">)</text>
<text x="443.16" y="880.30" font-size="14.3" font-family="Liberation Sans, sans-serif">3</text>
<text x="450.76" y="894.20" font-size="26.0" font-family="Liberation Sans, sans-serif">P</text>
<text x="732.68" y="504.60" font-size="14.3" font-family="Liberation Sans, sans-serif">3</text>
<text x="740.29" y="518.50" font-size="26.0" font-family="Liberation Sans, sans-serif">(</text>
<use href="#one" transform="matrix(0.01270 0 0 -0.01270 748.95 518.50)"/>
<text x="763.41" y="518.50" font-size="26.0" font-family="Liberation Sans, sans-serif">)</text>
<text x="770.67" y="518.50" font-size="26.0" font-family="Liberation Sans, sans-serif">P</text>
<text x="787.63" y="518.50" font-size="26.0" font-family="Liberation Sans, sans-serif">+</text>
<text x="802.19" y="518.50" font-size="26.0" font-family="Liberation Sans, sans-serif">(</text>
<use href="#one" transform="matrix(0.01270 0 0 -0.01270 810.85 518.50)"/>
<text x="825.31" y="518.50" font-size="26.0" font-family="Liberation Sans, sans-serif">)</text>
<text x="834.96" y="504.60" font-size="14.3" font-family="Liberation Sans, sans-serif">3</text>
<text x="843.37" y="518.50" font-size="26.0" font-family="Liberation Sans, sans-serif">P</text>
<use href="#one" transform="matrix(0.00698 0 0 -0.00698 770.27 560.80)"/>
<text x="777.82" y="574.70" font-size="26.0" font-family="Liberation Sans, sans-serif">S+(2)</text>
<use href="#one" transform="matrix(0.00698 0 0 -0.00698 840.95 560.80)"/>
<text x="848.70" y="574.70" font-size="26.0" font-family="Liberation Sans, sans-serif">S</text>
<use href="#one" transform="matrix(0.00698 0 0 -0.00698 764.57 704.20)"/>
<text x="772.12" y="718.10" font-size="26.0" font-family="Liberation Sans, sans-serif">S+(</text>
<use href="#one" transform="matrix(0.01270 0 0 -0.01270 813.30 718.10)"/>
<text x="827.76" y="718.10" font-size="26.0" font-family="Liberation Sans, sans-serif">)</text>
<use href="#one" transform="matrix(0.00698 0 0 -0.00698 835.25 704.20)"/>
<text x="842.05" y="718.10" font-size="26.0" font-family="Liberation Sans, sans-serif">P</text>
<use href="#one" transform="matrix(0.00698 0 0 -0.00698 762.67 880.30)"/>
<text x="770.22" y="894.20" font-size="26.0" font-family="Liberation Sans, sans-serif">S+(</text>
<use href="#one" transform="matrix(0.01270 0 0 -0.01270 811.40 894.20)"/>
<text x="825.86" y="894.20" font-size="26.0" font-family="Liberation Sans, sans-serif">)</text>
<text x="834.36" y="880.30" font-size="14.3" font-family="Liberation Sans, sans-serif">3</text>
<text x="841.96" y="894.20" font-size="26.0" font-family="Liberation Sans, sans-serif">P</text>
<text x="433.73" y="981.60" font-size="27.5" font-family="Liberation Sans, sans-serif">a)</text>
</svg>
</body></html>
